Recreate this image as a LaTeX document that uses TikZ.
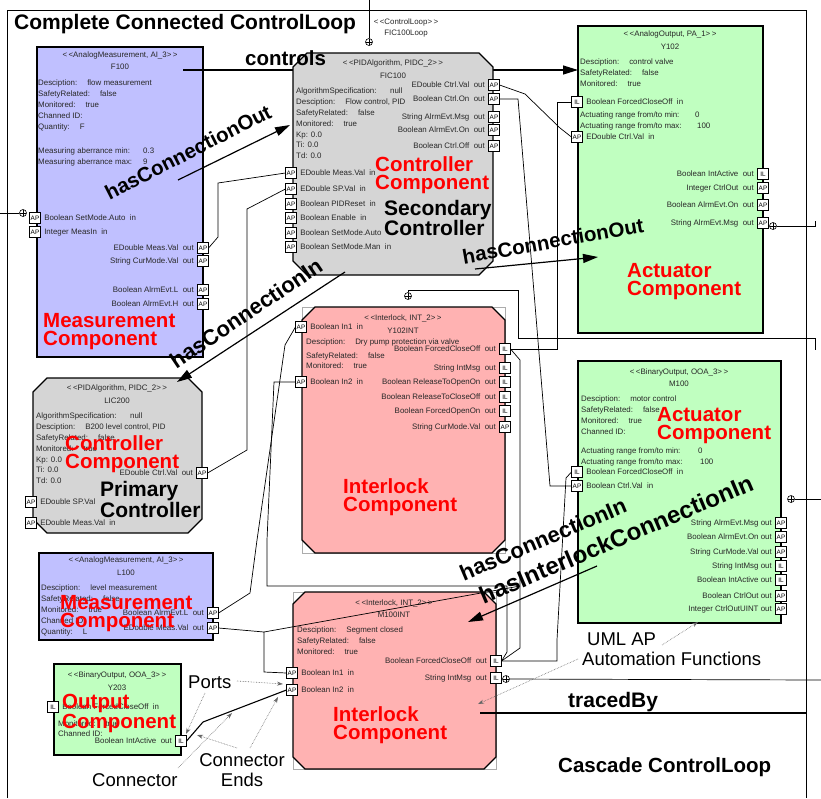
\documentclass[tikz,border=0pt]{standalone}
\usepackage{fontspec}
\setmainfont{Liberation Sans}
\usetikzlibrary{arrows.meta}

\definecolor{measblue}{RGB}{192,192,255}
\definecolor{outgreen}{RGB}{192,255,192}
\definecolor{lockpink}{RGB}{255,178,178}
\definecolor{ctrlgray}{RGB}{213,213,213}
\definecolor{txtgray}{RGB}{40,40,40}

\newcommand{\opn}{<\kern1.5pt<}
\newcommand{\cls}{>\kern1.5pt>}
\newcommand{\gap}{\hspace{10pt}}

\tikzset{
  box/.style={line width=1.1pt},
  lockframe/.style={gray!65, line width=0.8pt},
  port/.style={draw, fill=white, line width=0.6pt, minimum size=10.5pt, inner sep=0pt, font=\fontsize{6.4}{6}\selectfont},
  lab/.style={inner sep=0pt, text=txtgray, font=\fontsize{7.9}{8}\selectfont},
  hd/.style={inner sep=0pt, text=txtgray, font=\fontsize{7.9}{8}\selectfont},
  txt/.style={inner sep=0pt, text=txtgray, align=left, anchor=north west, font=\fontsize{7.9}{10.95}\selectfont},
  comp/.style={inner sep=0pt, red, align=left, anchor=north west, font=\bfseries\fontsize{20.5}{18.3}\selectfont},
  role/.style={comp, black, font=\bfseries\fontsize{21}{17.5}\selectfont},
  rel/.style={inner sep=0pt, font=\bfseries\fontsize{20.5}{20}\selectfont},
  note/.style={inner sep=0pt, font=\fontsize{18.5}{19.5}\selectfont},
  conn/.style={line width=0.7pt},
  relarrow/.style={line width=1.2pt, -{Triangle[length=15pt,width=9pt]}},
  hint/.style={gray!80!black, densely dotted, line width=0.6pt, -{Stealth[length=6pt,width=4pt]}},
  cplus/.style={circle, draw, fill=white, line width=0.6pt, minimum size=7pt, inner sep=0pt,
    path picture={\draw[line width=0.5pt] (path picture bounding box.north) -- (path picture bounding box.south)
      (path picture bounding box.west) -- (path picture bounding box.east);}}
}

\begin{document}
\begin{tikzpicture}[x=1pt, y=-1pt, label distance=3.5pt]
\useasboundingbox (0,0) rectangle (821,798);

% Draw outer loop frame
\draw[line width=0.9pt] (7,798) -- (7,10) -- (806,10) -- (806,798);
\node[rel, anchor=base west, font=\bfseries\fontsize{21}{21}\selectfont] (title) at (14,29) {Complete Connected ControlLoop};
\node[rel, anchor=base west] (cascade) at (558,772) {Cascade ControlLoop};

% Control loop element
\coordinate (looptop) at (369,0);
\node[cplus] (loopref) at (369,42) {};
\draw[conn] (looptop) -- (loopref);
\node[hd] (loophd) at (406,22) {\opn ControlLoop\cls};
\node[hd] (loopnm) at (406,34) {FIC100Loop};

% Measurement F100
\draw[box, fill=measblue] (37,47) rectangle (203,357);
\node[hd] (f100hd) at (120,55) {\opn AnalogMeasurement, AI\_3\cls};
\node[hd] (f100nm) at (120,67) {F100};
\node[txt] (f100at) at (38,79.3) {Desciption:\gap flow measurement\\ SafetyRelated:\gap false\\ Monitored:\gap true\\ Channed ID:\\ Quantity:\gap F\\[13.1pt]
  \makebox[105pt][l]{Measuring aberrance min:}0.3\\ \makebox[105pt][l]{Measuring aberrance max:}9};
\node[port, label={[lab]right:Boolean SetMode.Auto~~in}] (f100sa) at (35,218) {AP};
\node[port, label={[lab]right:Integer MeasIn~~in}] (f100mi) at (35,232) {AP};
\node[port, label={[lab]left:EDouble Meas.Val~~out}] (f100mv) at (203,248) {AP};
\node[port, label={[lab]left:String CurMode.Val~~out}] (f100cm) at (203,261) {AP};
\node[port, label={[lab]left:Boolean AlrmEvt.L~~out}] (f100al) at (203,290) {AP};
\node[port, label={[lab]left:Boolean AlrmEvt.H~~out}] (f100ah) at (203,304) {AP};
\node[cplus] (f100ref) at (23,213) {};
\coordinate (f100ext) at (0,213);
\draw[conn] (f100ext) -- (f100ref);
\node[comp] (f100cp) at (43,313) {Measurement\\Component};

% Actuator Y102
\draw[box, fill=outgreen] (578,26) rectangle (763,333);
\node[hd] (y102hd) at (670,34) {\opn AnalogOutput, PA\_1\cls};
\node[hd] (y102nm) at (670,47) {Y102};
\node[txt] (y102at) at (580,58.3) {Desciption:\gap control valve\\ SafetyRelated:\gap false\\ Monitored:\gap true};
\node[txt] (y102rg) at (580,111.3) {\makebox[115pt][l]{Actuating range from/to min:}0\\ \makebox[117pt][l]{Actuating range from/to max:}100};
\node[port, label={[lab]right:Boolean ForcedCloseOff~~in}] (y102fc) at (577,102) {IL};
\node[port, label={[lab]right:EDouble Ctrl.Val~~in}] (y102cv) at (577,137) {AP};
\node[port, label={[lab]left:Boolean IntActive~~out}] (y102ia) at (763,174) {IL};
\node[port, label={[lab]left:Integer CtrlOut~~out}] (y102co) at (763,188) {AP};
\node[port, label={[lab]left:Boolean AlrmEvt.On~~out}] (y102ao) at (763,205) {AP};
\node[port, label={[lab]left:String AlrmEvt.Msg~~out}] (y102am) at (763,223) {AP};
\node[cplus] (y102ref) at (773,226) {};
\draw[conn] (y102ref) -- (815,226) -- (815,221);
\node[comp] (y102cp) at (627,263) {Actuator\\Component};

% controls arrow runs behind the controller
\coordinate (ctlfrom) at (183,70);
\coordinate (ctlto) at (578,70);
\draw[relarrow] (ctlfrom) -- (ctlto);

% Secondary controller FIC100
\draw[box, fill=ctrlgray] (307,53) -- (479,53) -- (493,67) -- (493,261) -- (479,275) -- (307,275) -- (293,261) -- (293,67) -- cycle;
\node[hd] (fichd) at (393,63) {\opn PIDAlgorithm, PIDC\_2\cls};
\node[hd] (ficnm) at (393,76) {FIC100};
\node[txt] (ficat) at (296,87.3) {\makebox[94pt][l]{AlgorithmSpecification:}null\\ Desciption:\gap Flow control, PID\\ SafetyRelated:\gap false\\ Monitored:\gap true\\ Kp: 0.0\\ Ti: 0.0\\ Td: 0.0};
\node[port, label={[lab]left:EDouble Ctrl.Val~~out}] (ficcv) at (494,85) {AP};
\node[port, label={[lab]left:Boolean Ctrl.On~~out}] (ficon) at (494,99) {AP};
\node[port, label={[lab]left:String AlrmEvt.Msg~~out}] (ficam) at (494,117) {AP};
\node[port, label={[lab]left:Boolean AlrmEvt.On~~out}] (ficao) at (494,130) {AP};
\node[port, label={[lab]left:Boolean Ctrl.Off~~out}] (ficof) at (494,146) {AP};
\node[port, label={[lab]right:EDouble Meas.Val~~in}] (ficmv) at (291,173) {AP};
\node[port, label={[lab]right:EDouble SP.Val~~in}] (ficsp) at (291,189) {AP};
\node[port, label={[lab]right:Boolean PIDReset~~in}] (ficrs) at (291,204) {AP};
\node[port, label={[lab]right:Boolean Enable~~in}] (ficen) at (291,218) {AP};
\node[port, label={[lab]right:Boolean SetMode.Auto}] (ficsa) at (291,233) {AP};
\node[port, label={[lab]right:Boolean SetMode.Man~~in}] (ficsm) at (291,247) {AP};
\node[comp] (ficcp) at (375,156) {Controller\\Component};
\node[role] (ficrole) at (384,200) {Secondary\\Controller};
\node[rel, anchor=base west] (controls) at (245,65) {controls};

% Primary controller LIC200
\draw[box, fill=ctrlgray] (47,378) -- (188,378) -- (202,392) -- (202,519) -- (188,533) -- (47,533) -- (33,519) -- (33,392) -- cycle;
\node[hd] (lichd) at (117,388) {\opn PIDAlgorithm, PIDC\_2\cls};
\node[hd] (licnm) at (117,401) {LIC200};
\node[txt] (licat) at (36,412.3) {\makebox[94pt][l]{AlgorithmSpecification:}null\\ Desciption:\gap B200 level control, PID\\ SafetyRelated:\gap false\\ Monitored:\gap true\\ Kp: 0.0\\ Ti: 0.0\\ Td: 0.0};
\node[port, label={[lab]left:EDouble Ctrl.Val~~out}] (liccv) at (202,473) {AP};
\node[port, label={[lab]right:EDouble SP.Val}] (licsp) at (31,502) {AP};
\node[port, label={[lab]right:EDouble Meas.Val~~in}] (licmv) at (31,523) {AP};
\node[comp] (liccp) at (65,435) {Controller\\Component};
\node[role] (licrole) at (100,481) {Primary\\Controller};

% Interlock Y102INT
\draw[lockframe] (302,307) rectangle (505,553);
\draw[box, fill=lockpink] (315,307) -- (492,307) -- (505,320) -- (505,540) -- (492,553) -- (315,553) -- (302,540) -- (302,320) -- cycle;
\node[hd] (y1ihd) at (403,318) {\opn Interlock, INT\_2\cls};
\node[hd] (y1inm) at (403,331) {Y102INT};
\node[lab, anchor=west] (y1ids) at (306,342) {Desciption:\gap Dry pump protection via valve};
\node[lab, anchor=west] (y1isr) at (306,356) {SafetyRelated:\gap false};
\node[lab, anchor=west] (y1imo) at (306,366) {Monitored:\gap true};
\node[port, label={[lab]right:Boolean In1~~in}] (y1iin1) at (301,327) {AP};
\node[port, label={[lab]right:Boolean In2~~in}] (y1iin2) at (301,382) {AP};
\node[port, label={[lab]left:Boolean ForcedCloseOff~~out}] (y1ifc) at (505,349) {IL};
\node[port, label={[lab]left:String IntMsg~~out}] (y1imsg) at (505,368) {IL};
\node[port, label={[lab]left:Boolean ReleaseToOpenOn~~out}] (y1irop) at (505,382) {IL};
\node[port, label={[lab]left:Boolean ReleaseToCloseOff~~out}] (y1ircl) at (505,397) {IL};
\node[port, label={[lab]left:Boolean ForcedOpenOn~~out}] (y1ifo) at (505,411) {IL};
\node[port, label={[lab]left:String CurMode.Val~~out}] (y1icm) at (505,427) {AP};
\node[comp] (y1icp) at (343,478) {Interlock\\Component};

% Actuator M100
\draw[box, fill=outgreen] (578,361) rectangle (781,623);
\node[hd] (m100hd) at (679,372) {\opn BinaryOutput, OOA\_3\cls};
\node[hd] (m100nm) at (679,384) {M100};
\node[txt] (m100at) at (581,395.3) {Desciption:\gap motor control\\ SafetyRelated:\gap false\\ Monitored:\gap true\\ Channed ID:};
\node[txt] (m100rg) at (581,447.3) {\makebox[117pt][l]{Actuating range from/to min:}0\\ \makebox[119pt][l]{Actuating range from/to max:}100};
\node[port, label={[lab]right:Boolean ForcedCloseOff~~in}] (m100fc) at (577,472) {IL};
\node[port, label={[lab]right:Boolean Ctrl.Val~~in}] (m100cv) at (577,486) {AP};
\node[port, label={[lab]left:String AlrmEvt.Msg~out}] (m100am) at (781,523) {AP};
\node[port, label={[lab]left:Boolean AlrmEvt.On~out}] (m100ao) at (781,537) {AP};
\node[port, label={[lab]left:String CurMode.Val~out}] (m100cm) at (781,552) {AP};
\node[port, label={[lab]left:String IntMsg~out}] (m100msg) at (781,566) {IL};
\node[port, label={[lab]left:Boolean IntActive~out}] (m100ia) at (781,580) {IL};
\node[port, label={[lab]left:Boolean CtrlOut~out}] (m100co) at (781,596) {AP};
\node[port, label={[lab]left:Integer CtrlOutUINT~out}] (m100cu) at (781,609) {AP};
\node[cplus] (m100ref) at (791,499) {};
\draw[conn] (m100ref) -- (821,499);
\node[comp] (m100cp) at (657,407) {Actuator\\Component};

% Measurement L100
\draw[box, fill=measblue] (39,553) rectangle (213,640);
\node[hd] (l100hd) at (126,560) {\opn AnalogMeasurement, AI\_3\cls};
\node[hd] (l100nm) at (126,573) {L100};
\node[txt] (l100at) at (41,584.3) {Desciption:\gap level measurement\\ SafetyRelated:\gap false\\ Monitored:\gap true\\ Channed ID:\\ Quantity:\gap L};
\node[port, label={[lab]left:Boolean AlrmEvt.L~~out}] (l100al) at (213,613) {AP};
\node[port, label={[lab]left:EDouble Meas.Val~~out}] (l100mv) at (213,628) {AP};
\node[comp] (l100cp) at (60,595) {Measurement\\Component};

% Interlock M100INT
\draw[lockframe] (293,592) rectangle (496,769);
\draw[box, fill=lockpink] (305,592) -- (484,592) -- (496,604) -- (496,757) -- (484,769) -- (305,769) -- (293,757) -- (293,604) -- cycle;
\node[hd] (m1ihd) at (394,603) {\opn Interlock, INT\_2\cls};
\node[hd] (m1inm) at (394,615) {M100INT};
\node[txt] (m1iat) at (297,626.3) {Desciption:\gap Segment closed\\ SafetyRelated:\gap false\\ Monitored:\gap true};
\node[port, label={[lab]left:Boolean ForcedCloseOff~~out}] (m1ifc) at (496,661) {IL};
\node[port, label={[lab]left:String IntMsg~~out}] (m1imsg) at (496,678) {IL};
\node[port, label={[lab]right:Boolean In1~~in}] (m1iin1) at (292,673) {AP};
\node[port, label={[lab]right:Boolean In2~~in}] (m1iin2) at (292,690) {AP};
\node[cplus] (m1iref) at (506,679) {};
\draw[conn] (m1iref) -- (821,680);
\node[comp] (m1icp) at (333,706) {Interlock\\Component};

% Output Y203
\draw[box, fill=outgreen] (54,664) rectangle (181,755);
\node[hd] (y203hd) at (117,675) {\opn BinaryOutput, OOA\_3\cls};
\node[hd] (y203nm) at (117,688) {Y203};
\node[lab, anchor=west] (y203mo) at (58,724) {Monitored:\gap true};
\node[lab, anchor=west] (y203ch) at (58,734) {Channed ID:};
\node[port, label={[lab]right:Boolean ForcedCloseOff~~in}] (y203fc) at (53,707) {IL};
\node[port, label={[lab]left:Boolean IntActive~~out}] (y203ia) at (181,741) {IL};
\node[comp] (y203cp) at (62,694) {Output\\Component};

% Draw connectors between ports
\draw[conn] (f100mv.east) -- (218,237) -- (218,183) -- (ficmv.west);
\draw[conn] (liccv.east) -- (247,450) -- (247,209) -- (ficsp.west);
\draw[conn] (ficcv.east) -- (525,94) -- (560,128) -- (y102cv.west);
\draw[conn] (ficon.east) -- (518,99) -- (550,486) -- (m100cv.west);
\draw[conn] (y1ifc.east) -- (557,349) -- (557,102) -- (y102fc.west);
\node[cplus] (ficref) at (408,296) {};
\draw[conn] (ficref) -- (408,290) -- (518,290) -- (518,338) -- (815,338) -- (815,350);
\draw[conn] (y1ifc.east) -- (520,360) -- (520,648) -- (m1ifc.east);
\draw[conn] (m1ifc.east) -- (557,661) -- (557,640) -- (566,478) -- (m100fc.west);
\draw[conn] (l100al.east) -- (250,593) -- (257,540) -- (285,345) -- (y1iin1.west);
\draw[conn] (y1iin2.west) -- (274,382) -- (267,540) -- (267,586) -- (507,586) -- (507,652) -- (m1ifc.east);
\draw[conn] (l100mv.east) -- (264,632) -- (264,672) -- (m1iin1.west);
\draw[conn] (264,632) -- (520,586);
\draw[line width=1.1pt] (y203ia.east) -- (203,722) -- (m1iin2.west);

% Relation arrows
\draw[relarrow] (178,180) -- (290,125);
\node[rel, rotate=27] (hco1) at (188,152) {hasConnectionOut};
\draw[relarrow] (475,269) -- (598,257);
\node[rel, rotate=10] (hco2) at (553,241) {hasConnectionOut};
\draw[relarrow] (345,272) -- (177,382);
\node[rel, rotate=34, font=\bfseries\fontsize{22}{22}\selectfont] (hci1) at (246,313) {hasConnectionIn};
\draw[relarrow] (597,566) -- (468,622);
\node[rel, rotate=23, font=\bfseries\fontsize{22}{22}\selectfont] (hci2) at (543,539) {hasConnectionIn};
\node[rel, rotate=23, font=\bfseries\fontsize{24}{24}\selectfont] (hici) at (616,539) {hasInterlockConnectionIn};

% tracedBy
\coordinate (trfrom) at (480,713);
\coordinate (trto) at (806,713);
\draw[line width=1.3pt] (trfrom) -- (trto);
\node[rel, anchor=base west, font=\bfseries\fontsize{21}{21}\selectfont] (traced) at (568,707) {tracedBy};

% Explanation notes
\node[note, anchor=base west] (ports) at (188,688) {Ports};
\node[note, anchor=base west] (connlab) at (92,786) {Connector};
\node[note, anchor=north, align=center] (ends) at (242,753.5) {Connector\\Ends};
\node[note, anchor=base west] (umlap) at (587,645) {UML AP};
\node[note, anchor=base west] (autof) at (582,665) {Automation Functions};
\draw[hint] (237,681) -- (283,684);
\draw[hint] (205,693) -- (186,734);
\draw[hint] (178,768) -- (232,713);
\draw[hint] (237,748) -- (197,735);
\draw[hint] (250,748) -- (278,697);
\draw[hint] (662,645) -- (698,622);
\draw[hint] (578,659) -- (478,704);

\end{tikzpicture}
\end{document}
